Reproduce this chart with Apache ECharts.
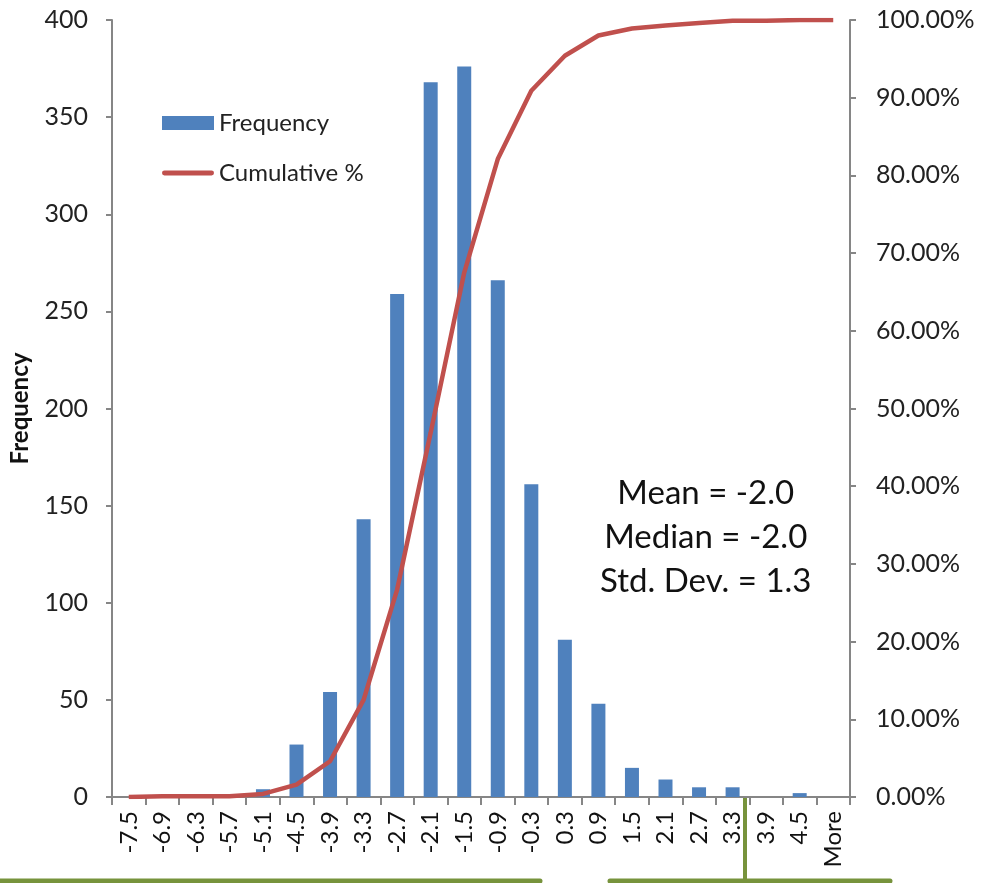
<!DOCTYPE html>
<html><head><meta charset="utf-8">
<script src="https://cdn.jsdelivr.net/npm/echarts@6/dist/echarts.min.js"></script>
<style>html,body{margin:0;padding:0;background:#fff}#c{width:981px;height:883px}</style>
</head><body><div id="c"></div>
<script>
const categories = ['-7.5','-6.9','-6.3','-5.7','-5.1','-4.5','-3.9','-3.3','-2.7','-2.1','-1.5','-0.9','-0.3','0.3','0.9','1.5','2.1','2.7','3.3','3.9','4.5','More'];
const frequency = [0,0,0,0,4,27,54,143,259,368,376,266,161,81,48,15,9,5,5,0,2,0];
const cumulativePct = [0,0.1,0.1,0.1,0.4,1.6,4.6,12.5,26.7,46.9,67.5,82.1,90.9,95.4,98.0,98.9,99.3,99.6,99.9,99.9,100,100];
const leftTicks = {min:0, max:400, interval:50};
const rightTicks = {min:0, max:100, interval:10};
const statsLines = ['Mean = -2.0','Median = -2.0','Std. Dev. = 1.3'];

const FONT = 'Lato';
const chart = echarts.init(document.getElementById('c'));
const axisGrey = '#868686';
chart.setOption({
  animation:false,
  textStyle:{fontFamily:FONT},
  grid:{left:112, right:131, top:20, bottom:86, containLabel:false},
  legend:{
    orient:'vertical', left:157, top:106, itemWidth:52, itemHeight:14, itemGap:26,
    textStyle:{fontFamily:FONT, fontSize:24, color:'#222'},
    data:[
      {name:'Frequency', icon:'rect'},
      {name:'Cumulative %', icon:'path://M2,0 L50,0 A2.5,2.5 0 0 1 50,5 L2,5 A2.5,2.5 0 0 1 2,0 Z', itemStyle:{color:'#C0504D'}}
    ]
  },
  xAxis:{
    type:'category', data:categories, boundaryGap:true,
    axisLine:{lineStyle:{color:axisGrey, width:2}},
    axisTick:{show:true, interval:0, length:8, lineStyle:{color:axisGrey, width:2}},
    axisLabel:{interval:0, rotate:90, margin:14, fontSize:24, color:'#111', fontFamily:FONT}
  },
  yAxis:[{
    type:'value', min:leftTicks.min, max:leftTicks.max, interval:leftTicks.interval,
    name:'Frequency', nameLocation:'middle', nameGap:80, nameRotate:90,
    nameTextStyle:{fontFamily:FONT, fontWeight:'bold', fontSize:24, color:'#111'},
    splitLine:{show:false},
    axisLine:{show:true, lineStyle:{color:axisGrey, width:2}},
    axisTick:{show:true, length:6, lineStyle:{color:axisGrey, width:2}},
    axisLabel:{margin:24, fontSize:25, color:'#222', fontFamily:FONT}
  },{
    type:'value', position:'right', min:rightTicks.min, max:rightTicks.max, interval:rightTicks.interval,
    splitLine:{show:false},
    axisLine:{show:true, lineStyle:{color:axisGrey, width:2}},
    axisTick:{show:true, length:6, lineStyle:{color:axisGrey, width:2}},
    axisLabel:{margin:26, fontSize:25, color:'#222', fontFamily:FONT, formatter:v=>v.toFixed(2)+'%'}
  }],
  series:[{
    name:'Frequency', type:'bar', data:frequency, barWidth:14,
    itemStyle:{color:'#4F81BD'}
  },{
    name:'Cumulative %', type:'line', yAxisIndex:1, data:cumulativePct,
    symbol:'none', smooth:false,
    lineStyle:{color:'#C0504D', width:4.5}, itemStyle:{color:'#C0504D'}
  }],
  graphic:[
    {type:'group', left:600, top:477, children: statsLines.map((t,i)=>({
      type:'text', x:110, y:i*44, style:{text:t, font:'33px '+FONT, fill:'#111', align:'center'}
    }))},
    {type:'line', shape:{x1:-2,y1:881,x2:540,y2:881}, style:{stroke:'#77933C', lineWidth:5, lineCap:'round'}},
    {type:'line', shape:{x1:610,y1:881,x2:890,y2:881}, style:{stroke:'#77933C', lineWidth:5, lineCap:'round'}},
    {type:'line', shape:{x1:745,y1:797,x2:745,y2:883}, style:{stroke:'#77933C', lineWidth:4}}
  ]
});
</script></body></html>
